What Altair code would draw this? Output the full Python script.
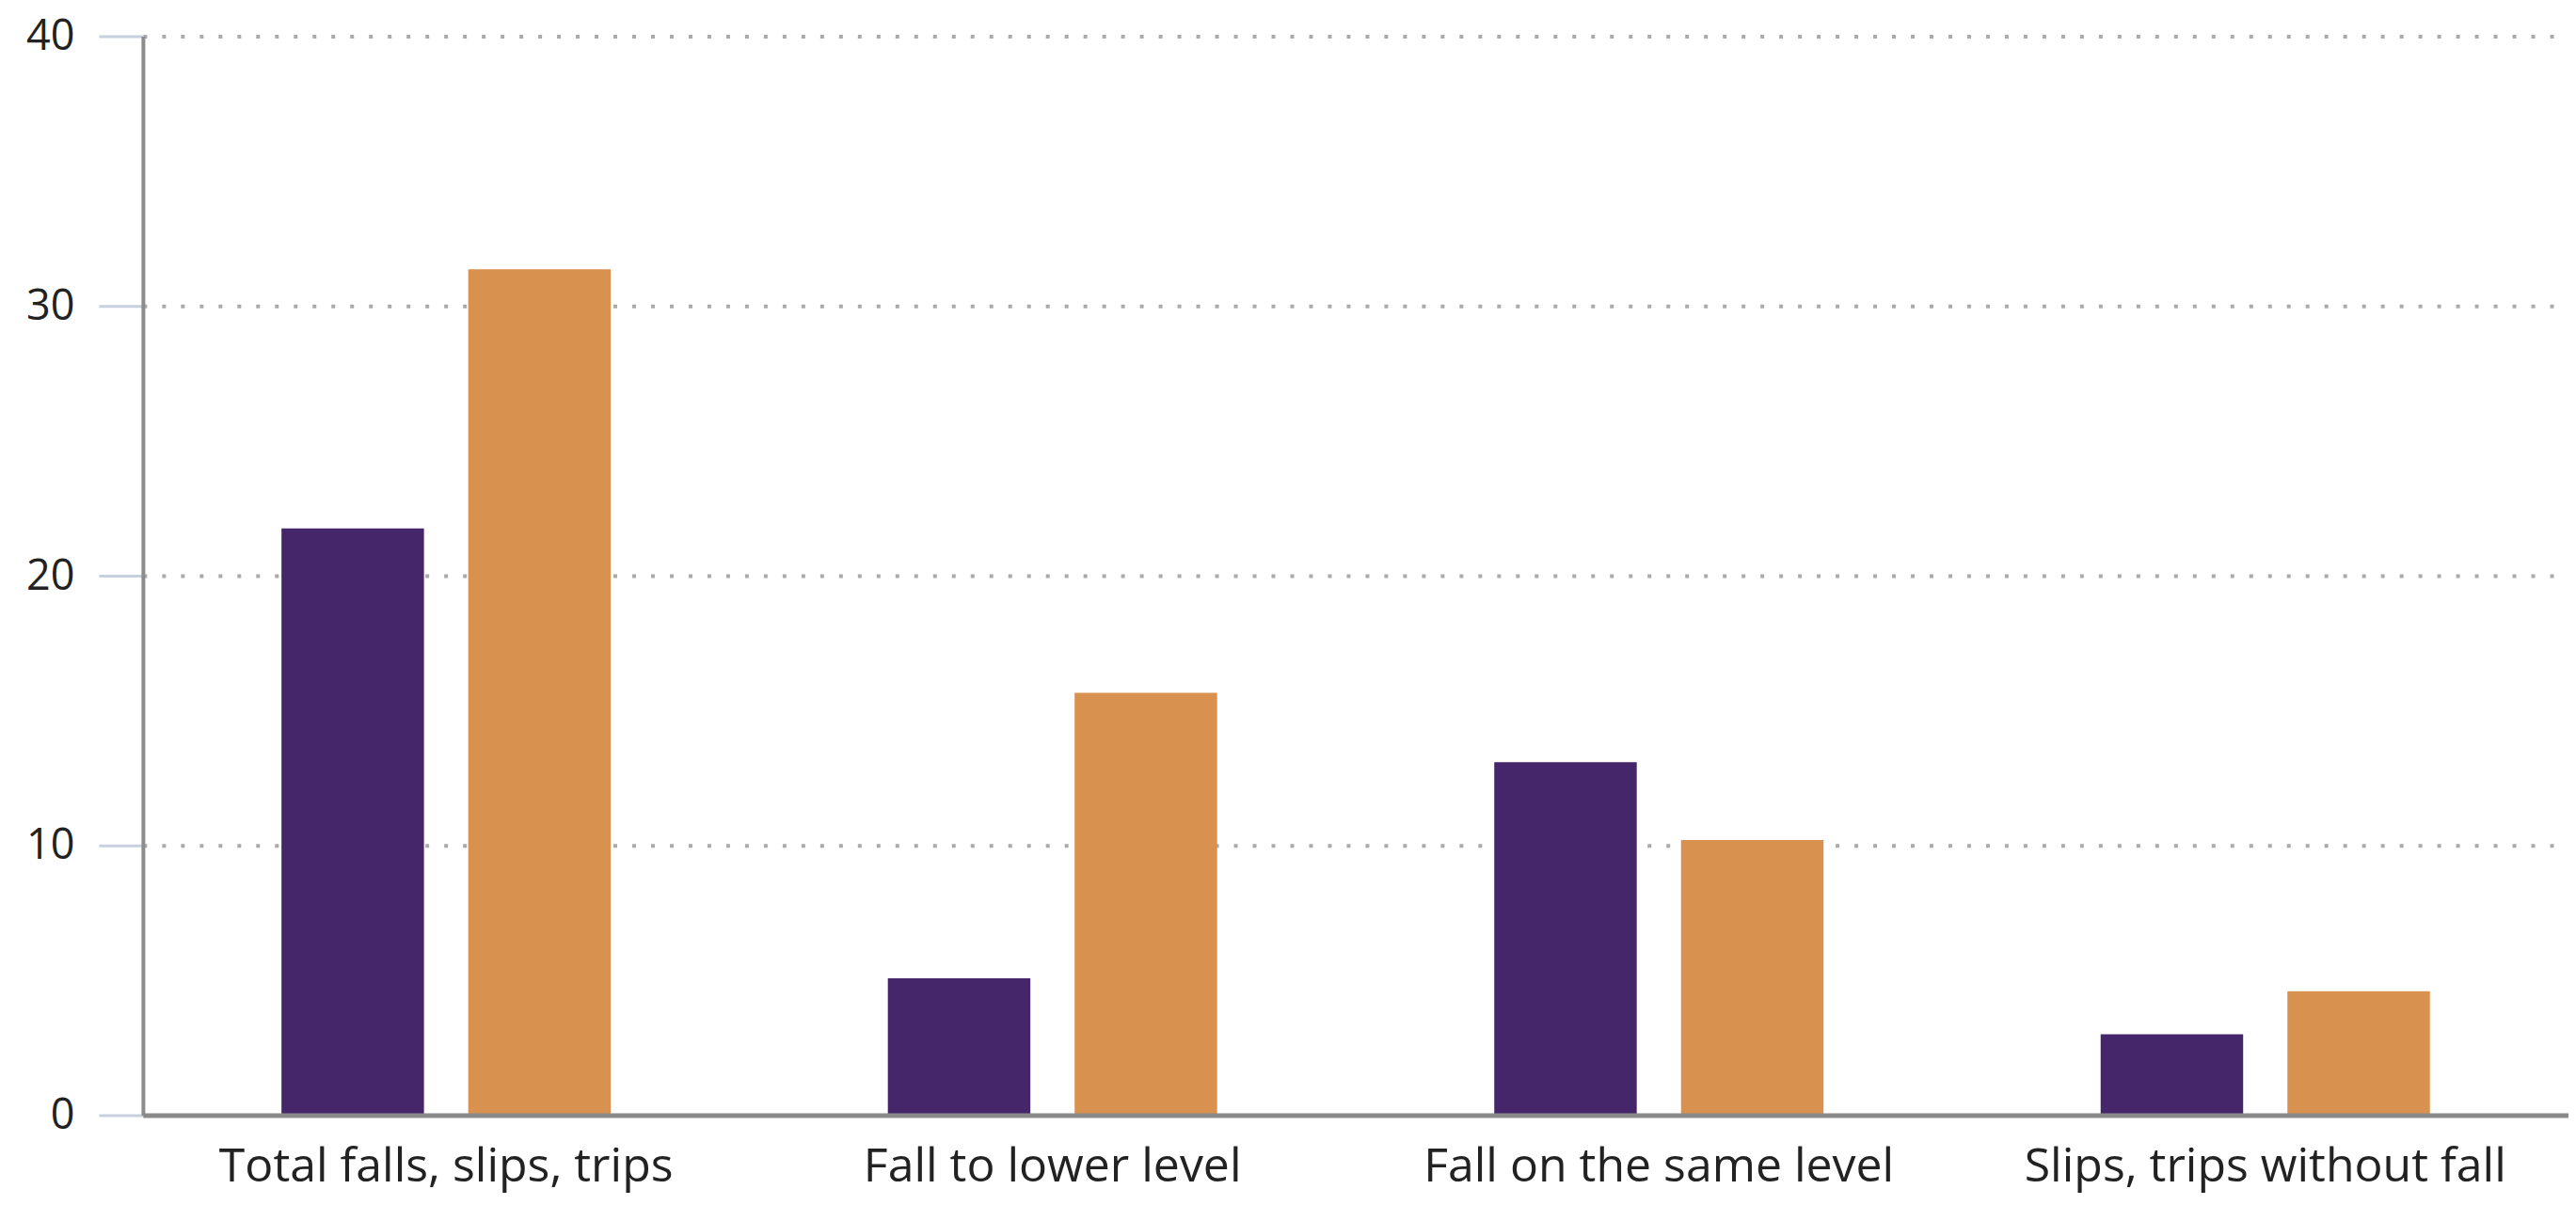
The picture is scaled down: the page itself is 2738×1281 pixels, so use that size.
import altair as alt
import pandas as pd

categories = [
    "Total falls, slips, trips",
    "Fall to lower level",
    "Fall on the same level",
    "Slips, trips without fall",
]
series = ["Series 1", "Series 2"]
series1_values = [21.75, 5.08, 13.09, 3.0]
series2_values = [31.36, 15.66, 10.2, 4.6]
colors = ["#46266a", "#d8914f"]
y_ticks = [0, 10, 20, 30, 40]

rows = []
for c, a, b in zip(categories, series1_values, series2_values):
    rows.append({"category": c, "series": series[0], "value": a})
    rows.append({"category": c, "series": series[1], "value": b})
df = pd.DataFrame(rows)

chart = (
    alt.Chart(df)
    .mark_bar()
    .encode(
        x=alt.X(
            "category:N",
            sort=categories,
            scale=alt.Scale(paddingInner=0.457, paddingOuter=0.2285),
            axis=alt.Axis(
                title=None,
                labelAngle=0,
                labelFont="Open Sans",
                labelFontSize=50,
                labelColor="#222222",
                labelBaseline="alphabetic",
                labelPadding=70,
                labelLimit=0,
                labelOverlap=False,
                ticks=False,
                tickSize=0,
                domainColor="#8a8a8a",
                domainWidth=5,
                grid=False,
                zindex=1,
            ),
        ),
        xOffset=alt.XOffset(
            "series:N",
            sort=series,
            scale=alt.Scale(paddingInner=0.237, paddingOuter=0),
        ),
        y=alt.Y(
            "value:Q",
            scale=alt.Scale(domain=[0, 40], nice=False, zero=True),
            axis=alt.Axis(
                values=y_ticks,
                title=None,
                labelFont="Open Sans",
                labelFontSize=45,
                labelColor="#222222",
                labelPadding=26,
                tickSize=47,
                tickColor="#c8d0e0",
                tickWidth=3,
                domainColor="#8c8c8c",
                domainWidth=4,
                grid=True,
                gridColor="#aaaaaa",
                gridWidth=4,
                gridDash=[4, 16],
                zindex=0,
            ),
        ),
        color=alt.Color(
            "series:N",
            scale=alt.Scale(domain=series, range=colors),
            legend=None,
        ),
    )
    .properties(
        width=2580,
        height=1148,
        autosize=alt.AutoSizeParams(type="none"),
        padding={"left": 144, "top": 30, "right": 0, "bottom": 100},
        background="white",
    )
    .configure_view(stroke=None)
)

chart.save("out.html", embed_options={"renderer": "svg", "actions": False})
